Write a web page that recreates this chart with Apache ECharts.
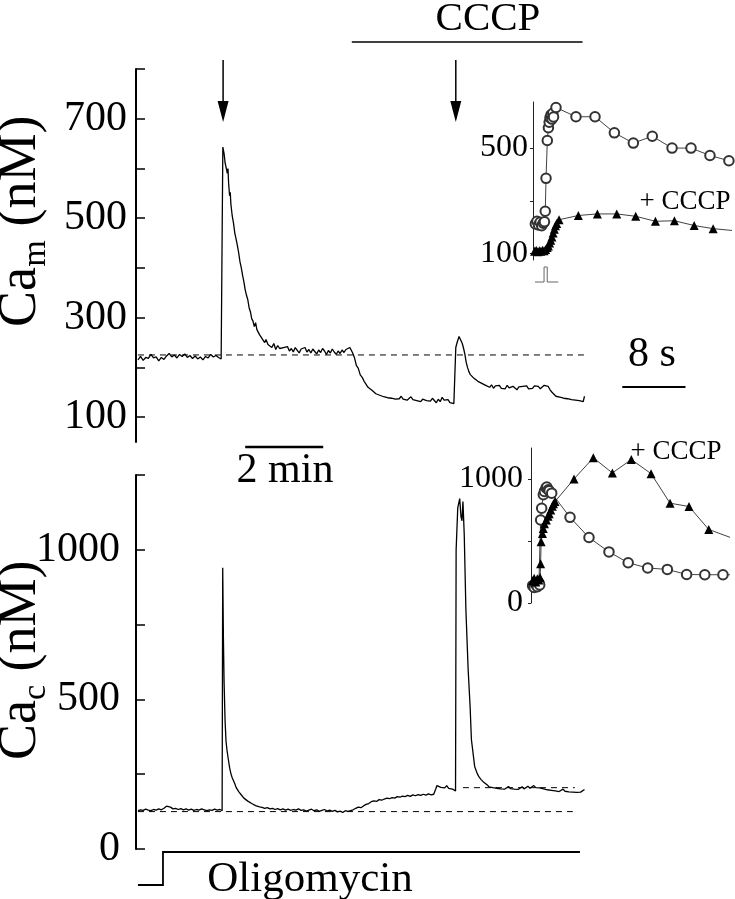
<!DOCTYPE html>
<html>
<head>
<meta charset="utf-8">
<script src="https://cdn.jsdelivr.net/npm/echarts@6/dist/echarts.min.js"></script>
<style>
  html, body { margin: 0; padding: 0; background: #fff; }
  #chart { width: 735px; height: 899px; }
</style>
</head>
<body>
<div id="chart"></div>
<script>
// mitochondrial Ca trace [time s, nM]
const camTrace = [
  [3,215],[7,222],[11,214],[15,220],[19,218],[23,226],[27,219],[31,221],[35,213],[39,220],[43,216],[47,223],
  [51,228],[55,221],[59,225],[63,219],[67,226],[71,222],[75,227],[79,220],[83,224],[87,218],[91,223],[95,217],
  [99,221],[103,215],[107,222],[111,219],[115,226],[119,221],[123,224],[127,220],[131,217],[133,214],
  [133.6,643],[135.5,630],[137,612],[139,610],[140.5,590],[141.5,600],[142.5,570],[144,545],[145,552],[146,528],
  [148,505],[150,490],[152,470],[154,458],[156,445],[158,430],[160,412],[162,400],[164,385],[166,372],[168,356],
  [170,345],[172,336],[174,320],[176,312],[178,298],[180,293],[182,282],[184,290],[186,276],[188,272],[190,266],
  [192,270],[194,258],[196,254],[198,250],[200,256],[203,246],[206,244],[209,240],[212,248],[215,236],[218,244],
  [221,238],[224,234],[227,240],[230,236],[233,242],[236,233],[239,238],[242,231],[245,240],[248,236],[251,229],
  [254,237],[257,233],[260,240],[263,231],[266,236],[269,229],[272,237],[275,232],[278,227],[281,235],[284,230],
  [287,238],[290,233],[293,226],[296,234],[299,229],[302,237],[305,231],[308,226],[311,233],[314,228],[317,235],
  [320,230],[323,236],[326,232],[329,240],[331,236],[333,230],[336,220],[339,204],[342,198],[345,185],[348,180],
  [351,172],[354,168],[357,160],[360,162],[363,154],[366,151],[369,147],[372,150],[375,144],[378,146],[381,141],
  [384,144],[387,139],[390,142],[393,138],[396,141],[399,136],[402,140],[405,137],[408,142],[411,136],[414,139],
  [417,134],[420,138],[423,141],[426,135],[429,139],[432,133],[435,137],[438,131],[441,136],[444,140],[447,133],
  [450,137],[453,132],[456,138],[459,134],[462,129],[465,136],[468,131],[471,140],[474,134],[477,130],[480,135],
  [483,129],[486,133],[489,127],[491.5,126],
  [492,240],[494,250],[497,262],[500,258],[502,248],[504,238],[506,226],[508,210],[510,200],[512,192],[514,186],
  [517,190],[520,178],[523,182],[526,172],[529,176],[532,168],[535,172],[538,164],[541,167],[544,160],[547,165],
  [550,158],[553,163],[556,159],[559,164],[562,158],[565,162],[568,157],[571,164],[574,159],[577,156],[580,162],
  [583,158],[586,155],[589,161],[592,157],[595,162],[598,158],[601,163],[604,157],[607,161],[610,158],[613,163],
  [616,159],[619,162],[622,157],[625,161],[628,164],[631,168],[634,162],[637,155],[640,150],[643,146],[646,142],
  [649,146],[652,140],[655,144],[658,138],[661,142],[664,137],[667,141],[670,135],[673,139],[676,134],[679,138],
  [682,133],[685,137],[688,131],[690,142]
];
// cytosolic Ca trace [time s, nM]
const cacTrace = [
  [3,128],[7,131],[11,129],[15,133],[19,130],[23,128],[27,132],[31,130],[35,134],[39,131],[43,136],[47,143],
  [50,137],[53,140],[57,134],[61,136],[65,132],[69,135],[73,131],[77,134],[81,130],[85,133],[89,129],[93,132],
  [97,130],[101,134],[105,131],[109,128],[113,131],[117,129],[121,133],[125,130],[129,132],[132.5,128],
  [133.4,940],[134.5,700],[135.5,560],[137,430],[138.5,360],[140,330],[142,300],[144,272],[146,252],[148,238],
  [150,228],[152,218],[154,206],[156,200],[158,192],[160,186],[163,178],[166,170],[169,166],[172,160],[175,156],
  [178,152],[181,148],[184,145],[187,147],[190,141],[194,139],[198,136],[202,138],[206,134],[210,136],[214,132],
  [218,135],[222,131],[226,134],[230,130],[234,133],[238,129],[242,132],[246,130],[250,134],[254,129],[258,131],
  [262,127],[266,130],[270,133],[274,128],[278,131],[282,126],[286,129],[290,132],[294,127],[298,130],[302,126],
  [306,129],[310,124],[314,127],[318,122],[322,128],[326,126],[330,128],[334,131],[338,136],[342,140],[346,138],
  [350,144],[354,149],[358,152],[362,158],[366,161],[370,159],[374,165],[378,163],[382,167],[386,170],[390,168],
  [394,172],[398,170],[402,175],[406,173],[410,177],[414,175],[418,179],[422,176],[426,181],[430,178],[434,182],
  [438,179],[442,183],[446,180],[450,184],[454,181],[458,183],[461,200],[463,212],[466,215],[469,206],[472,210],
  [475,204],[478,212],[481,203],[484,208],[487,200],[490,196],[491.6,194],
  [492.5,1000],[495,1140],[498,1171],[500,1110],[501.5,1097],[503,1161],[505,1050],[507.5,802],[511,600],
  [514,477],[516,366],[521,276],[525,252],[528,240],[531,232],[534,225],[537,228],[540,215],[543,208],[546,212],
  [549,205],[552,209],[555,203],[558,207],[561,201],[564,206],[567,200],[570,204],[573,209],[576,202],[579,207],
  [582,200],[585,205],[588,199],[591,204],[594,208],[597,201],[600,206],[603,210],[606,203],[609,207],[612,212],
  [615,205],[618,209],[621,204],[624,208],[627,201],[630,205],[633,198],[636,203],[639,196],[642,201],[645,194],
  [648,199],[651,192],[654,197],[657,200],[660,193],[663,198],[666,191],[669,196],[672,190],[675,195],[678,189],
  [681,194],[684,190],[687,196],[690,199]
];
const camBaseline = [[3,225],[694,225]];
const cacBaseline = [[3,125],[672,125]];
const cacBaseline2 = [[503,205],[675,205]];

// insets [time s, nM]
const insetCamCtrl = [
  [0.3,212],[0.5,222],[0.7,208],[0.9,218],[1.1,205],[1.3,215],[1.45,220],[1.55,260],[1.65,385],[1.81,529],
  [1.95,577],[2.05,598],[2.15,615],[2.28,626],[2.4,610],[2.5,632],[2.6,618],[2.91,654],[5.44,619],[7.85,619],
  [10.3,558],[12.7,519],[15.1,545],[17.6,500],[20.0,500],[22.4,472],[24.8,452]
];
const insetCamCccp = [
  [0.2,108],[0.4,112],[0.6,106],[0.8,110],[1.0,108],[1.2,112],[1.4,110],[1.6,115],[1.8,122],[1.95,128],
  [2.1,140],[2.25,150],[2.4,162],[2.55,178],[2.7,192],[2.85,205],[3.0,214],[3.3,228],[5.74,244],[8.15,250],
  [10.6,250],[13.0,241],[15.5,222],[17.9,224],[20.4,206],[22.8,194],[25.6,186]
];
const insetCacCtrl = [
  [0.2,140],[0.4,125],[0.6,150],[0.8,132],[1.0,160],[1.1,145],[1.22,669],[1.35,764],[1.56,873],[1.7,900],
  [1.9,927],[2.0,935],[2.19,913],[2.3,905],[2.62,886],[4.94,691],[7.34,528],[9.87,412],[12.3,325],[14.77,282],
  [17.26,271],[19.7,230],[22.0,228],[24.3,228],[25.6,228]
];
const insetCacCccp = [
  [0.2,180],[0.4,200],[0.6,170],[0.8,195],[1.0,185],[1.15,205],[1.22,317],[1.28,493],[1.45,560],[1.55,600],
  [1.7,640],[1.95,669],[2.15,700],[2.3,720],[2.5,751],[2.7,780],[2.85,800],[3.04,818],[5.44,1000],[7.89,1171],
  [10.3,1049],[12.7,1157],[15.2,1043],[17.6,805],[20.0,778],[22.5,593],[25.6,520]
];

const stimTimes = [134, 492];
const cccpPeriod = [332, 687];
const oligoStep = [3, 41.5, 683];
const pulseTimes = [0.25, 1.4, 1.8, 3.2];
const minuteBar = [168, 288];
const secondBar = [11.3, 19.3];

const camTicks = [100, 200, 300, 400, 500, 600, 700, 800];
const camLabels = [100, 300, 500, 700];
const cacTicks = [0, 250, 500, 750, 1000, 1250];
const cacLabels = [0, 500, 1000];
const insetCamTicks = [100, 300, 500];
const insetCamLabels = [100, 500];
const insetCacTicks = [0, 500, 1000];
const insetCacLabels = [0, 1000];

const FONT = '"Liberation Serif", "DejaVu Serif", serif';
const chart = echarts.init(document.getElementById('chart'));
const plain = v => String(v);

function mainY(min, max, ticks, labels, margin) {
  return {
    min: min, max: max,
    axisLine: { show: true, lineStyle: { color: '#000', width: 2 } },
    axisTick: { show: true, inside: true, length: 9, lineStyle: { color: '#000', width: 1.5 }, customValues: ticks },
    axisLabel: { customValues: labels, formatter: plain, color: '#000', fontFamily: FONT, fontSize: 42, margin: margin },
    splitLine: { show: false }
  };
}
function insetY(gridIndex, min, max, ticks, labels, margin) {
  return {
    gridIndex: gridIndex, min: min, max: max,
    axisLine: { show: true, lineStyle: { color: '#222', width: 1 } },
    axisTick: { show: true, inside: false, length: 3, lineStyle: { color: '#222', width: 1 }, customValues: ticks },
    axisLabel: { customValues: labels, formatter: plain, color: '#000', fontFamily: FONT, fontSize: 32, margin: margin },
    splitLine: { show: false }
  };
}
function hiddenX(gridIndex, max) {
  return { type: 'value', gridIndex: gridIndex, min: 0, max: max, show: false };
}
function trace(idx, data, width) {
  return {
    type: 'line', xAxisIndex: idx, yAxisIndex: idx, data: data, symbol: 'none',
    lineStyle: { color: '#000', width: width }, silent: true
  };
}
function dashed(idx, data) {
  return {
    type: 'line', xAxisIndex: idx, yAxisIndex: idx, data: data, symbol: 'none',
    lineStyle: { color: '#000', width: 1, type: [6, 5] }, silent: true
  };
}
function points(idx, data, filled) {
  return {
    type: 'line', xAxisIndex: idx, yAxisIndex: idx, data: data,
    symbol: filled ? 'triangle' : 'emptyCircle', symbolSize: filled ? 9 : 9.5, showAllSymbol: true,
    itemStyle: { color: filled ? '#000' : '#333', borderColor: filled ? '#000' : '#333', borderWidth: filled ? 0 : 0.7 },
    lineStyle: { color: '#111', width: 0.8 }, silent: true
  };
}

chart.setOption({
  animation: false,
  backgroundColor: '#fff',
  grid: [
    { left: 136, top: 69, width: 455, height: 373 },
    { left: 136, top: 475, width: 455, height: 374 },
    { left: 533, top: 102, width: 197.5, height: 158 },
    { left: 531, top: 448, width: 197.5, height: 155 }
  ],
  xAxis: [hiddenX(0, 700), hiddenX(1, 700), hiddenX(2, 25), hiddenX(3, 25)],
  yAxis: [
    Object.assign({ gridIndex: 0 }, mainY(50, 800, camTicks, camLabels, 9)),
    Object.assign({ gridIndex: 1 }, mainY(0, 1250, cacTicks, cacLabels, 16)),
    insetY(2, 75, 675, insetCamTicks, insetCamLabels, 5),
    insetY(3, 0, 1250, insetCacTicks, insetCacLabels, 8)
  ],
  series: [
    dashed(0, camBaseline),
    trace(0, camTrace, 1.3),
    dashed(1, cacBaseline),
    dashed(1, cacBaseline2),
    trace(1, cacTrace, 1.3),
    points(2, insetCamCtrl, false),
    points(2, insetCamCccp, true),
    points(3, insetCacCtrl, false),
    points(3, insetCacCccp, true)
  ]
});

// annotations placed from the axes' scales
const px = (g, t) => chart.convertToPixel({ gridIndex: g }, [t, 0])[0];
const graphics = [];

function txt(x, y, text, size, rot) {
  graphics.push({
    type: 'text', x: x, y: y, rotation: rot || 0, silent: true,
    style: { text: text, fontFamily: FONT, fontSize: size, fill: '#000', align: 'center', verticalAlign: 'middle' }
  });
}
function line(pts, w, color) {
  graphics.push({
    type: 'polyline', silent: true, shape: { points: pts },
    style: { stroke: color || '#000', lineWidth: w, fill: null }
  });
}

// CCCP bar and label
line([[px(0, cccpPeriod[0]), 42], [px(0, cccpPeriod[1]), 42]], 1.5);
txt(488, 19, 'CCCP', 41);

// stimulus arrows
stimTimes.forEach(function (t) {
  const x = px(0, t);
  line([[x, 60], [x, 104]], 1.5);
  graphics.push({
    type: 'polygon', silent: true,
    shape: { points: [[x - 5.5, 101], [x + 5.5, 101], [x, 122]] },
    style: { fill: '#000' }
  });
});

// 2 min scale bar
line([[px(0, minuteBar[0]), 447], [px(0, minuteBar[1]), 447]], 2.5);
txt(285, 471, '2 min', 42);

// 8 s scale bar
line([[px(2, secondBar[0]), 387], [px(2, secondBar[1]), 387]], 2);
txt(652, 355, '8 s', 42);

// oligomycin step
line([[px(1, oligoStep[0]), 885], [px(1, oligoStep[1]), 885], [px(1, oligoStep[1]), 852], [px(1, oligoStep[2]), 852]], 1.8);
txt(310, 880, 'Oligomycin', 43);

// stimulus pulse under top inset
line([[px(2, pulseTimes[0]), 282], [px(2, pulseTimes[1]), 282], [px(2, pulseTimes[1]), 267],
      [px(2, pulseTimes[2]), 267], [px(2, pulseTimes[2]), 282], [px(2, pulseTimes[3]), 282]], 1, '#666');

// inset labels
txt(685, 202, '+ CCCP', 27);
txt(676, 452, '+ CCCP', 27);

// rotated axis titles
const R = Math.PI / 2;
txt(21, 297, 'Ca', 54, R);
txt(36, 253.5, 'm', 34, R);
txt(21, 171, '(nM)', 54, R);
txt(21, 730, 'Ca', 54, R);
txt(36, 692.5, 'c', 34, R);
txt(21, 616, '(nM)', 54, R);

chart.setOption({ graphic: graphics });
</script>
</body>
</html>
